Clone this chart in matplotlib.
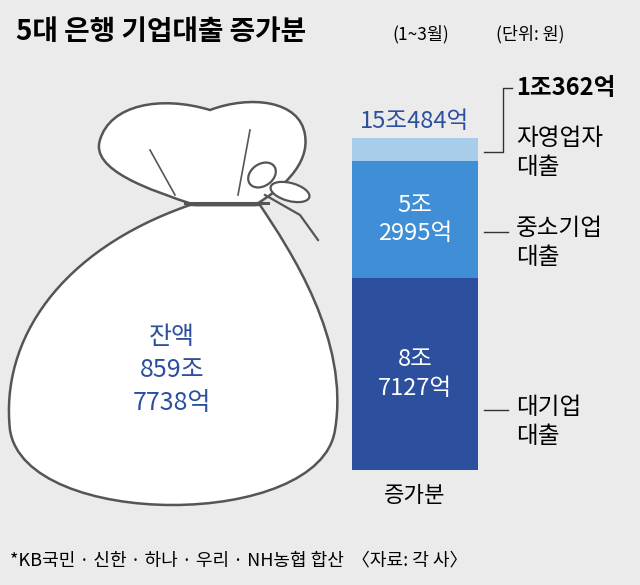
import matplotlib.pyplot as plt
from matplotlib.path import Path
from matplotlib.patches import PathPatch, Ellipse

plt.rcParams['font.family'] = ['Noto Sans CJK KR', 'DejaVu Sans']

# 증가분 (억 원)
segments = ["대기업 대출", "중소기업 대출", "자영업자 대출"]
values = [87127, 52995, 10362]
inner_labels = ["8조\n7127억", "5조\n2995억", ""]
colors = ["#2c4f9e", "#3f8ed6", "#a8cdea"]
total_label = "15조484억"
balance_label = "잔액\n859조\n7738억"

BG = "#ebebeb"
BLUE = "#2c4f9e"

fig = plt.figure(figsize=(6.4, 5.85), dpi=100, facecolor=BG)
ax = fig.add_axes([0, 0, 1, 1])
ax.set_xlim(0, 640)
ax.set_ylim(585, 0)
ax.axis("off")

# 제목
ax.text(16, 32, "5대 은행 기업대출 증가분", fontsize=20, fontweight="bold", va="center")
ax.text(392, 34, "(1~3월)", fontsize=12.5, va="center")
ax.text(496, 34, "(단위: 원)", fontsize=12.5, va="center")

# 돈주머니 몸통
body = [(190, 205),
        (60, 250), (0, 340), (10, 430),
        (25, 530), (320, 530), (335, 430),
        (350, 340), (290, 250), (260, 205),
        (190, 205)]
codes = [Path.MOVETO] + [Path.CURVE4] * 9 + [Path.CLOSEPOLY]
ax.add_patch(PathPatch(Path(body, codes), facecolor="white", edgecolor="#555555", lw=1.8))
# 윗부분(주름)
top = [(195, 205),
       (150, 190), (90, 170), (100, 140),
       (110, 105), (160, 95), (210, 110),
       (250, 95), (300, 100), (305, 135),
       (310, 165), (280, 190), (255, 205),
       (195, 205)]
codes = [Path.MOVETO] + [Path.CURVE4] * 12 + [Path.CLOSEPOLY]
ax.add_patch(PathPatch(Path(top, codes), facecolor="white", edgecolor="#555555", lw=1.8))
ax.plot([185, 268], [203, 203], color="#555555", lw=2.2)
ax.plot([150, 175], [150, 195], color="#555555", lw=1.2)
ax.plot([250, 238], [130, 195], color="#555555", lw=1.2)
# 매듭
ax.add_patch(Ellipse((262, 175), 30, 22, angle=-35, facecolor="white", ec="#555555", lw=1.6))
ax.add_patch(Ellipse((290, 192), 40, 18, angle=15, facecolor="white", ec="#555555", lw=1.6))
ax.plot([265, 300, 318], [195, 215, 240], color="#555555", lw=1.6)
ax.text(172, 370, balance_label, fontsize=18, color=BLUE, ha="center", va="center",
        linespacing=1.35)

# 누적 막대
bx = fig.add_axes([352 / 640, (585 - 470) / 585, 126 / 640, 332 / 585])
bx.set_xlim(-0.5, 0.5)
bx.set_ylim(0, sum(values))
bx.axis("off")
bottom = 0
for v, c, lab in zip(values, colors, inner_labels):
    bx.bar(0, v, bottom=bottom, width=1.0, color=c)
    if lab:
        bx.text(0, bottom + v / 2, lab, fontsize=17, fontweight="medium", color="white",
                ha="center", va="center", linespacing=1.3)
    bottom += v

ax.text(415, 121, total_label, fontsize=17, fontweight="medium", color=BLUE,
        ha="center", va="center")
ax.text(415, 495, "증가분", fontsize=16, ha="center", va="center")

# 오른쪽 설명
lc = "#333333"
ax.plot([484, 503, 503, 512], [152, 152, 88, 88], color=lc, lw=1)
ax.text(516, 88, "1조362억", fontsize=17, fontweight="bold", ha="left", va="center")
ax.text(516, 153, "자영업자\n대출", fontsize=17, ha="left", va="center", linespacing=1.3)
ax.plot([484, 508], [232, 232], color=lc, lw=1)
ax.text(516, 243, "중소기업\n대출", fontsize=17, ha="left", va="center", linespacing=1.3)
ax.plot([484, 508], [410, 410], color=lc, lw=1)
ax.text(516, 422, "대기업\n대출", fontsize=17, ha="left", va="center", linespacing=1.3)

# 각주
ax.text(10, 560, "*KB국민 · 신한 · 하나 · 우리 · NH농협 합산  〈자료: 각 사〉",
        fontsize=13, ha="left", va="center")

fig.savefig("out.png", dpi=100, facecolor=BG)
